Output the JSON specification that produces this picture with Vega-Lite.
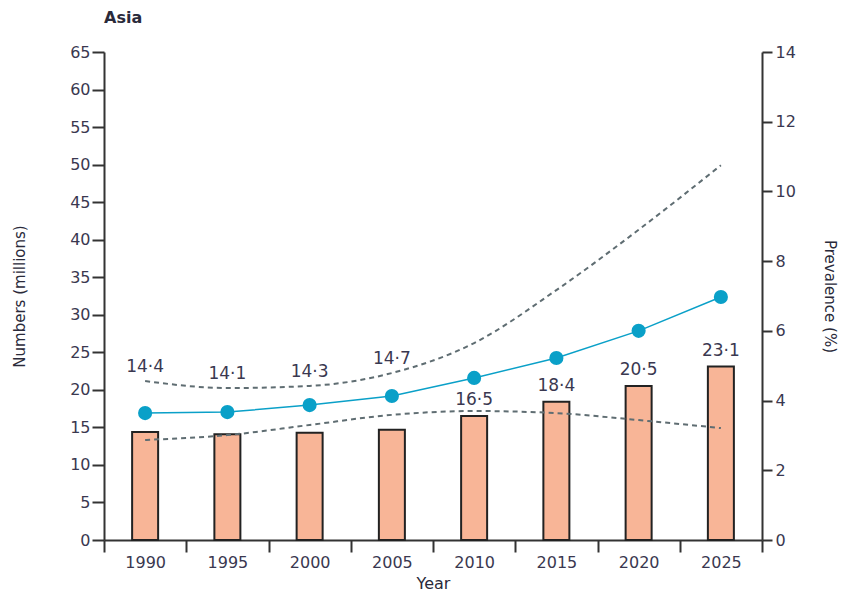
{
  "$schema": "https://vega.github.io/schema/vega-lite/v6.json",
  "width": 658,
  "height": 488,
  "autosize": "none",
  "padding": {"left": 104, "top": 52, "right": 82, "bottom": 54},
  "background": "white",
  "title": {"text": "Asia", "anchor": "start", "frame": "group", "font": "DejaVu Sans", "fontSize": 16, "fontWeight": "bold", "color": "#2a2a3a", "offset": 18},
  "config": {
    "view": {"stroke": null},
    "axis": {
      "domainColor": "#333333", "tickColor": "#333333", "domainWidth": 2, "tickWidth": 2,
      "labelFont": "DejaVu Sans", "labelFontSize": 16, "labelColor": "#3a3850",
      "titleFont": "DejaVu Sans", "titleFontSize": 15, "titleFontWeight": "normal", "titleColor": "#2a2a3a",
      "grid": false
    }
  },
  "data": {"values": [
    {"year": 1990, "numbers": 14.4, "prevalence": 3.64, "lower": 2.87, "upper": 4.56},
    {"year": 1995, "numbers": 14.1, "prevalence": 3.67, "lower": 3.01, "upper": 4.36},
    {"year": 2000, "numbers": 14.3, "prevalence": 3.87, "lower": 3.30, "upper": 4.42},
    {"year": 2005, "numbers": 14.7, "prevalence": 4.13, "lower": 3.59, "upper": 4.79},
    {"year": 2010, "numbers": 16.5, "prevalence": 4.65, "lower": 3.70, "upper": 5.65},
    {"year": 2015, "numbers": 18.4, "prevalence": 5.22, "lower": 3.64, "upper": 7.17},
    {"year": 2020, "numbers": 20.5, "prevalence": 6.00, "lower": 3.44, "upper": 8.90},
    {"year": 2025, "numbers": 23.1, "prevalence": 6.97, "lower": 3.21, "upper": 10.75}
  ]},
  "transform": [{"calculate": "replace(format(datum.numbers, '.1f'), '.', '·')", "as": "label"}],
  "encoding": {
    "x": {"field": "year", "type": "ordinal", "title": "Year",
      "scale": {"paddingInner": 0, "paddingOuter": 0},
      "axis": {"labelAngle": 0, "tickBand": "extent", "tickSize": 12, "labelPadding": 2, "titlePadding": 5, "titleFontSize": 16}}
  },
  "layer": [
    {
      "encoding": {
        "y": {"field": "numbers", "type": "quantitative", "title": "Numbers (millions)",
          "scale": {"domain": [0, 65], "nice": false},
          "axis": {"values": [0,5,10,15,20,25,30,35,40,45,50,55,60,65], "tickSize": 12, "labelPadding": 2, "titlePadding": 42, "titleFontSize": 15}}
      },
      "layer": [
        {"mark": {"type": "bar", "width": 26, "fill": "#f8b597", "stroke": "#222222", "strokeWidth": 2}},
        {"transform": [{"filter": "datum.year >= 2010"}],
          "mark": {"type": "text", "baseline": "middle", "dy": -16, "font": "DejaVu Sans", "fontSize": 17, "color": "#3a3850"},
          "encoding": {"text": {"field": "label"}}}
      ]
    },
    {
      "layer": [
        {"mark": {"type": "line", "interpolate": "monotone", "stroke": "#5f6d72", "strokeWidth": 2, "strokeDash": [5, 4]},
          "encoding": {"y": {"field": "upper", "type": "quantitative", "title": "Prevalence (%)", "scale": {"domain": [0, 14], "nice": false},
            "axis": {"orient": "right", "values": [0,2,4,6,8,10,12,14], "tickSize": 10, "labelPadding": 3, "titlePadding": 26, "titleFontSize": 15}}}},
        {"mark": {"type": "line", "interpolate": "monotone", "stroke": "#5f6d72", "strokeWidth": 2, "strokeDash": [5, 4]},
          "encoding": {"y": {"field": "lower", "type": "quantitative", "title": "Prevalence (%)"}}},
        {"mark": {"type": "line", "stroke": "#0aa0c8", "strokeWidth": 1.5},
          "encoding": {"y": {"field": "prevalence", "type": "quantitative", "title": "Prevalence (%)"}}},
        {"mark": {"type": "point", "filled": true, "size": 200, "color": "#0aa0c8", "opacity": 1},
          "encoding": {"y": {"field": "prevalence", "type": "quantitative", "title": "Prevalence (%)"}}},
        {"transform": [{"filter": "datum.year <= 2005"}],
          "mark": {"type": "text", "baseline": "middle", "dy": -14, "font": "DejaVu Sans", "fontSize": 17, "color": "#3a3850"},
          "encoding": {"y": {"field": "upper", "type": "quantitative", "title": "Prevalence (%)"}, "text": {"field": "label"}}}
      ]
    }
  ],
  "resolve": {"scale": {"y": "independent"}}
}
